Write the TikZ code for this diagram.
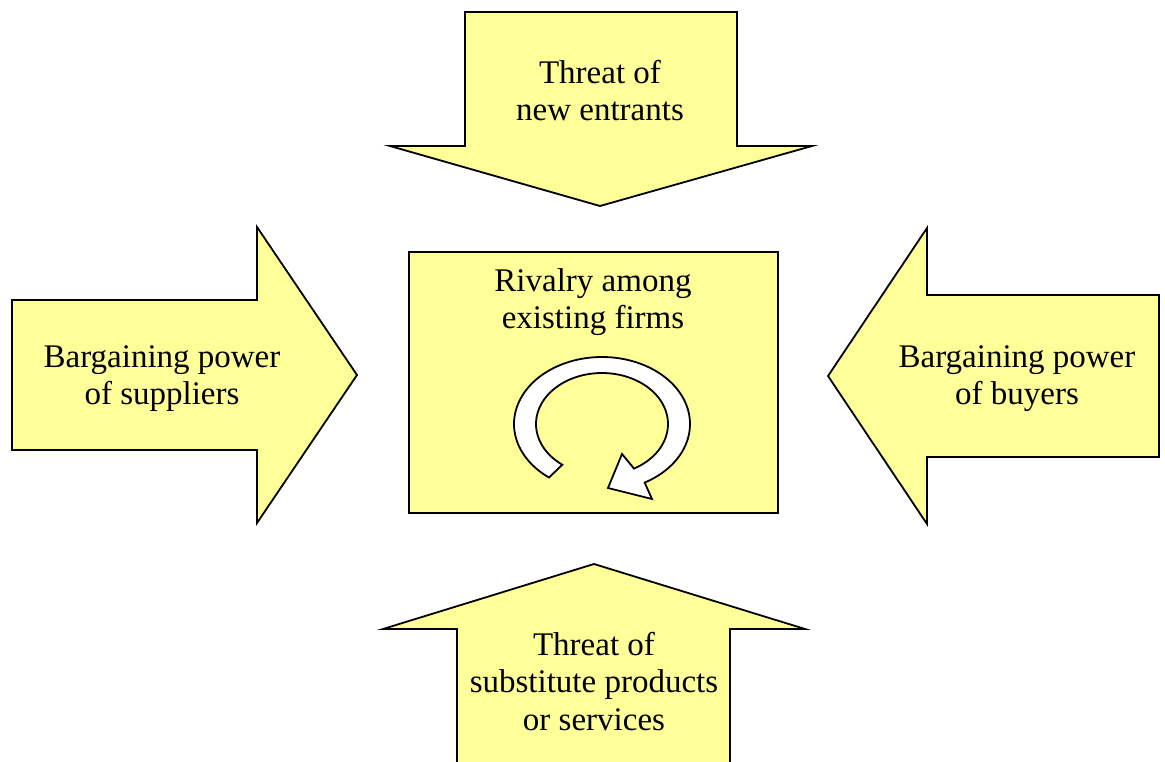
\documentclass[tikz,border=0pt]{standalone}
\usepackage{fontspec}
\setmainfont{Liberation Serif}
\definecolor{paleyellow}{HTML}{FFFF99}
\begin{document}
\begin{tikzpicture}[x=1pt,y=-1pt,
  force/.style={fill=paleyellow, draw=black, line width=1.8pt, line join=miter},
  rivalbox/.style={fill=paleyellow, draw=black, line width=1.8pt},
  cycle arrow/.style={fill=white, draw=black, line width=1.8pt, line join=miter},
  caption/.style={font=\fontsize{33}{37}\selectfont, inner sep=0pt, anchor=base}]
\useasboundingbox (0,0) rectangle (1165,762);

% threat of new entrants (pointing down)
\draw[force] (465,12) -- (737,12) -- (737,146) -- (812,146) -- (600,206)
  -- (390,146) -- (465,146) -- cycle;
\node[caption] (new1) at (600,84) {Threat of};
\node[caption] (new2) at (600,121) {new entrants};

% bargaining power of suppliers (pointing right)
\draw[force] (12,300) -- (257,300) -- (257,227) -- (357,375) -- (257,523)
  -- (257,450) -- (12,450) -- cycle;
\node[caption] (sup1) at (162,367) {Bargaining power};
\node[caption] (sup2) at (162,404) {of suppliers};

% bargaining power of buyers (pointing left)
\draw[force] (1159,295) -- (927,295) -- (927,228) -- (828,376) -- (927,524)
  -- (927,457) -- (1159,457) -- cycle;
\node[caption] (buy1) at (1017,367) {Bargaining power};
\node[caption] (buy2) at (1017,404) {of buyers};

% threat of substitutes (pointing up, shaft running off the bottom)
\draw[force] (457,775) -- (457,629) -- (383,629) -- (594,564) -- (805,629)
  -- (730,629) -- (730,775);
\node[caption] (sub1) at (594,655) {Threat of};
\node[caption] (sub2) at (594,692) {substitute products};
\node[caption] (sub3) at (594,730) {or services};

% rivalry among existing firms
\draw[rivalbox] (409,252) rectangle (778,513);
\node[caption] (riv1) at (593,291) {Rivalry among};
\node[caption] (riv2) at (593,328) {existing firms};

% circular arrow inside the box
\draw[cycle arrow]
  plot[domain=127:421, samples=90, smooth] ({602+88*cos(\x)},{424+67*sin(\x)})
  -- (652,499) -- (608,488) -- (622,454)
  -- plot[domain=421:127, samples=90, smooth] ({602+66*cos(\x)},{424+51*sin(\x)})
  -- cycle;
\end{tikzpicture}
\end{document}
